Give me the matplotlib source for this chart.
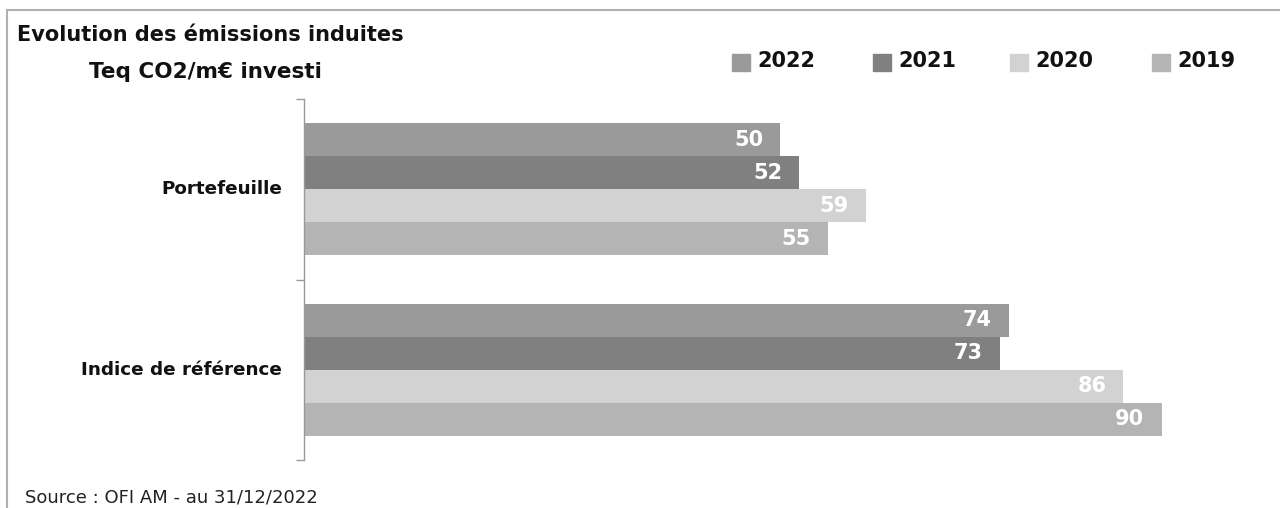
import matplotlib
matplotlib.use("Agg")
import matplotlib.pyplot as plt
from matplotlib.lines import Line2D
from matplotlib.patches import Rectangle
import numpy as np

categories = ["Portefeuille", "Indice de référence"]
years = ["2022", "2021", "2020", "2019"]
values_2022 = [50, 74]
values_2021 = [52, 73]
values_2020 = [59, 86]
values_2019 = [55, 90]
series = [values_2022, values_2021, values_2020, values_2019]
colors = ["#9a9a9a", "#808080", "#d2d2d2", "#b4b4b4"]

W, H = 1280, 508
fig = plt.figure(figsize=(W / 100, H / 100), dpi=100)
plt.rcParams['font.family'] = ['DejaVu Sans']

def fx(px):
    return px / W

def fy(py):
    return 1 - py / H

# axes: x from 305 to 1255 px, y from 99 to 460 px
ax = fig.add_axes([fx(304), fy(460), fx(1254) - fx(304), fy(99) - fy(460)])
ax.set_xlim(0, 99.7)
ax.set_ylim(1.5, -0.5)

bar_h = 0.183
n = len(series)
for i, (vals, col) in enumerate(zip(series, colors)):
    offs = (i - (n - 1) / 2) * bar_h
    ys = np.arange(len(categories)) + offs
    bars = ax.barh(ys, vals, height=bar_h, color=col, edgecolor='none')
    for b, v in zip(bars, vals):
        ax.text(v - 1.8, b.get_y() + b.get_height() / 2, f"{v}", ha='right', va='center',
                color='white', fontsize=15, fontweight='bold')

for s in ['top', 'right', 'bottom']:
    ax.spines[s].set_visible(False)
ax.spines['left'].set_color('#999999')
ax.spines['left'].set_linewidth(1.0)
ax.set_xticks([])
ax.set_yticks([-0.5, 0.5, 1.5])
ax.set_yticklabels([])
ax.tick_params(axis='y', length=6, color='#999999', width=1.0, direction='out')
for i, c in enumerate(categories):
    ax.text(-0.023, i, c, transform=ax.get_yaxis_transform(), ha='right', va='center',
            fontsize=13.2, fontweight='bold', color='#111111')

# frame
fig.add_artist(Line2D([fx(7), fx(7)], [fy(10), 0], color='#b0b0b0', lw=1.5))
fig.add_artist(Line2D([fx(7), 1], [fy(10), fy(10)], color='#b0b0b0', lw=1.5))

fig.text(fx(17), fy(35), "Evolution des émissions induites", ha='left', va='center',
         fontsize=15, fontweight='bold', color='#111111')
fig.text(fx(89), fy(72), "Teq CO2/m€ investi", ha='left', va='center',
         fontsize=15.5, fontweight='bold', color='#111111')
fig.text(fx(25), fy(497), "Source : OFI AM - au 31/12/2022", ha='left', va='center',
         fontsize=13, color='#222222')

# legend
leg_sq_x = [732, 873, 1010, 1152]
for sx, col, yr in zip(leg_sq_x, colors, years):
    fig.add_artist(Rectangle((fx(sx), fy(71)), fx(18), 17 / H, color=col, transform=fig.transFigure))
    fig.text(fx(sx + 25), fy(61), yr, ha='left', va='center', fontsize=15,
             fontweight='bold', color='#111111')

fig.savefig("out.png", dpi=100, facecolor='white')
